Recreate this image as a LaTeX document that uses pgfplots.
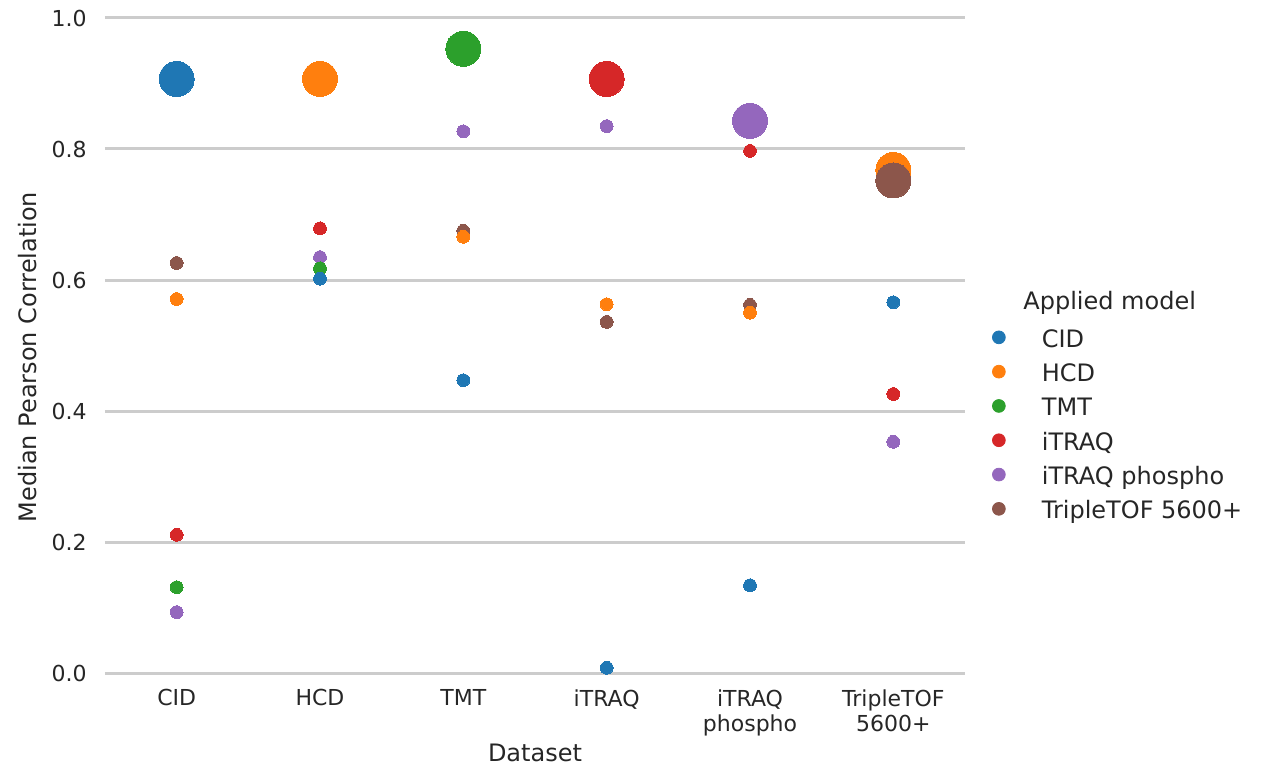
\documentclass[border=0pt]{standalone}
\usepackage{fontspec}
\setmainfont{DejaVu Sans}
\usepackage{pgfplots}
\pgfplotsset{compat=1.18}
\definecolor{cCID}{HTML}{1F77B4}
\definecolor{cHCD}{HTML}{FF7F0E}
\definecolor{cTMT}{HTML}{2CA02C}
\definecolor{cITRAQ}{HTML}{D62728}
\definecolor{cPHOS}{HTML}{9467BD}
\definecolor{cTOF}{HTML}{8C564B}
\definecolor{textc}{HTML}{262626}
\definecolor{gridc}{HTML}{CCCCCC}
\newcommand{\tickfont}{\fontsize{11}{12.5}\selectfont}
\newcommand{\lblfont}{\fontsize{12}{14}\selectfont}
\begin{document}
\begin{tikzpicture}
\begin{axis}[
  scale only axis, width=430pt, height=327.5pt,
  xmin=-0.5, xmax=5.5, ymin=0, ymax=1,
  clip=false,
  axis line style={draw=none},
  major tick length=0pt,
  ymajorgrids, grid style={color=gridc, line width=1.5pt},
  xtick={0,1,2,3,4,5},
  xticklabels={CID,HCD,TMT,iTRAQ,{iTRAQ\\phospho},{TripleTOF\\5600+}},
  ytick={0,0.2,0.4,0.6,0.8,1},
  /pgf/number format/assume math mode=true,
  yticklabel style={/pgf/number format/fixed, /pgf/number format/fixed zerofill, /pgf/number format/precision=1, anchor=east, inner sep=0pt, font=\tickfont, text=textc},
  yticklabel shift=9pt,
  xticklabel style={align=center, anchor=north, inner sep=0pt, font=\tickfont, text=textc},
  xticklabel shift=8pt,
  every axis x label/.style={at={(axis description cs:0.5,-0.1215)}, anchor=center, font=\lblfont, text=textc},
  every axis y label/.style={at={(axis description cs:-0.0895,0.4824)}, anchor=center, rotate=90, font=\lblfont, text=textc},
  xlabel={Dataset},
  ylabel={Median Pearson Correlation},
  legend style={at={(axis description cs:1.031,0.5254)}, anchor=north west, draw=none, fill=none, inner sep=0pt, row sep=5.65pt, font=\lblfont, text=textc, nodes={inner ysep=0pt, text height=9pt, text depth=2.5pt, inner xsep=3.5pt}},
  legend cell align=left,
  legend image code/.code={\fill[#1] (0pt,1.7pt) circle (3.2pt); \path[draw=none,fill=none] (-3.2pt,0pt) rectangle (18pt,0.1pt);},
  every axis plot/.append style={only marks, mark=*, mark options={line width=0pt}},
]
\addlegendimage{color=cCID}\addlegendentry{CID}
\addlegendimage{color=cHCD}\addlegendentry{HCD}
\addlegendimage{color=cTMT}\addlegendentry{TMT}
\addlegendimage{color=cITRAQ}\addlegendentry{iTRAQ}
\addlegendimage{color=cPHOS}\addlegendentry{iTRAQ phospho}
\addlegendimage{color=cTOF}\addlegendentry{TripleTOF 5600+}
% small points
\addplot[forget plot, color=cTOF, mark size=3.2pt] coordinates {(0,0.626) (2,0.675) (3,0.536) (4,0.562)};
\addplot[forget plot, color=cPHOS, mark size=3.2pt] coordinates {(0,0.093) (1,0.635) (2,0.827) (3,0.835) (5,0.353)};
\addplot[forget plot, color=cTMT, mark size=3.2pt] coordinates {(0,0.131) (1,0.618)};
\addplot[forget plot, color=cITRAQ, mark size=3.2pt] coordinates {(0,0.211) (1,0.679) (4,0.797) (5,0.426)};
\addplot[forget plot, color=cHCD, mark size=3.2pt] coordinates {(0,0.571) (2,0.666) (3,0.563) (4,0.550)};
\addplot[forget plot, color=cCID, mark size=3.2pt] coordinates {(1,0.602) (2,0.447) (3,0.008) (4,0.134) (5,0.566)};
% big points
\addplot[forget plot, color=cCID, mark size=8.75pt] coordinates {(0,0.907)};
\addplot[forget plot, color=cHCD, mark size=8.75pt] coordinates {(1,0.907) (5,0.768)};
\addplot[forget plot, color=cTMT, mark size=8.75pt] coordinates {(2,0.953)};
\addplot[forget plot, color=cITRAQ, mark size=8.75pt] coordinates {(3,0.907)};
\addplot[forget plot, color=cPHOS, mark size=8.75pt] coordinates {(4,0.843)};
\addplot[forget plot, color=cTOF, mark size=8.75pt] coordinates {(5,0.752)};
\node[anchor=base west, inner sep=0pt, font=\lblfont, text=textc] at (axis description cs:1.0674,0.5557) {Applied model};
\coordinate (ll) at (axis cs:-0.5,0);
\coordinate (ur) at (axis cs:5.5,1);
\end{axis}
\pgfresetboundingbox
\path ([shift={(-52.5pt,-46.5pt)}]ll) rectangle ([shift={(150.5pt,9pt)}]ur);
\end{tikzpicture}
\end{document}
